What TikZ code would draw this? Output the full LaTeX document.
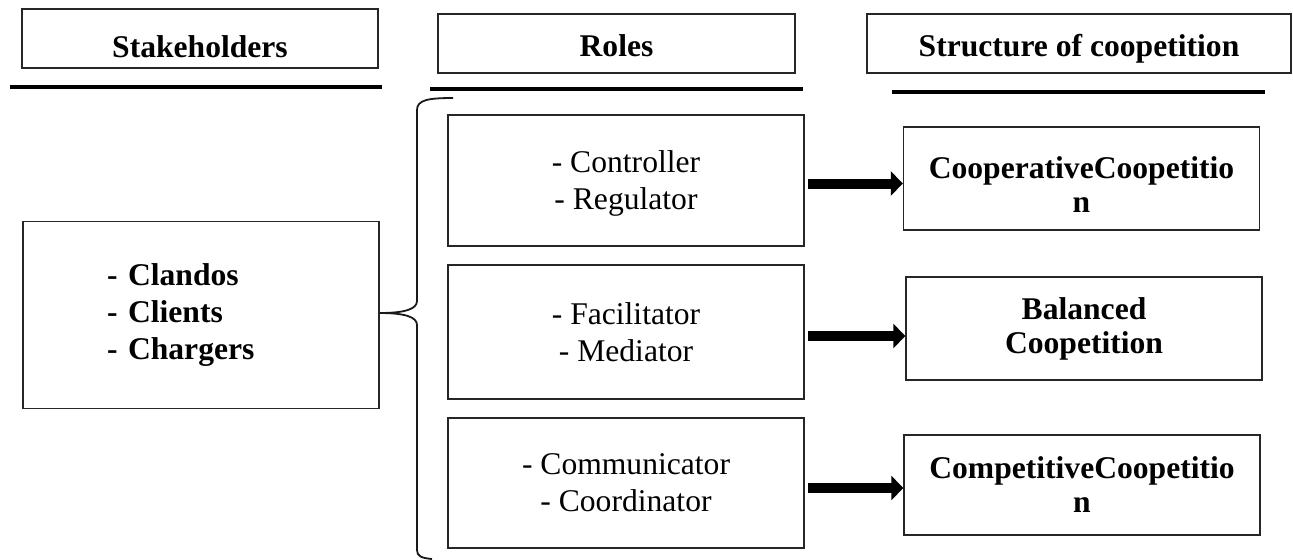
\documentclass[tikz,border=0pt]{standalone}
\usepackage{fontspec}
\setmainfont{Liberation Serif}
\usetikzlibrary{arrows.meta,calc}
\begin{document}
\begin{tikzpicture}[x=0.5pt,y=-0.5pt,
  box/.style={draw=black!85, line width=0.7pt, inner sep=0pt, align=center,
    font=\fontsize{15.8}{18.5}\selectfont},
  hdr/.style={box, minimum height=29.5pt, font=\fontsize{15.8}{18.5}\selectfont\bfseries},
  rolebox/.style={box, minimum width=178pt},
  structbox/.style={box, minimum width=178pt, font=\fontsize{15.8}{17}\selectfont\bfseries},
  bar/.style={line width=2pt, line cap=butt},
  bigarrow/.style={line width=5pt, -{Triangle[length=6pt, width=12pt]}},
  brace/.style={line width=0.9pt, black!90}]
\useasboundingbox (0,0) rectangle (1293,559);

% headers
\node[hdr, minimum width=178pt, text height=18.6pt, text depth=0pt] (h1) at (200,38.5) {Stakeholders};
\node[hdr, minimum width=178.5pt, text height=16pt, text depth=3.5pt] (h2) at (616.5,43.5) {Roles};
\node[hdr, minimum width=212pt, text height=16pt, text depth=3.5pt] (h3) at (1079,43.5) {Structure of coopetition};

% thick rules under headers
\draw[bar] (10,87) -- (382,87);
\draw[bar] (430,89) -- (803,89);
\draw[bar] (892,92) -- (1265,92);

% stakeholders
\node[box, minimum width=178pt, minimum height=93.5pt, text width=94pt, align=left,
      font=\fontsize{15.8}{18.5}\selectfont\bfseries] (sh) at (201,315)
  {- Clandos\\- Clients\\- Chargers};

% roles
\node[rolebox, minimum height=65.5pt] (r1) at (626,180.5) {\rule{0pt}{14pt}- Controller\\- Regulator};
\node[rolebox, minimum height=67pt] (r2) at (626,332) {- Facilitator\\- Mediator};
\node[rolebox, minimum height=65pt] (r3) at (626,483) {- Communicator\\- Coordinator};

% structures
\node[structbox, minimum height=51.5pt] (s1) at (1081.5,178.5) {\rule{0pt}{17pt}CooperativeCoopetitio\\n};
\node[structbox, minimum height=51.5pt] (s2) at (1084,328.5) {Balanced\\Coopetition};
\node[structbox, minimum height=50pt] (s3) at (1082,485) {CompetitiveCoopetitio\\n};

% arrows
\draw[bigarrow] ([xshift=1.5pt,yshift=-1.5pt]r1.east) -- ([yshift=-1.5pt]r1.east -| s1.west);
\draw[bigarrow] ([xshift=1.5pt,yshift=-2pt]r2.east) -- ([yshift=-2pt]r2.east -| s2.west);
\draw[bigarrow] ([xshift=1.5pt,yshift=-2.5pt]r3.east) -- ([yshift=-2.5pt]r3.east -| s3.west);

% brace
\draw[brace] (453,98) .. controls (428,98) and (417,100) .. (417,110)
  -- (417,301) .. controls (417,309) and (405,313) .. (sh.east |- 0,313)
  .. controls (405,313) and (417,317) .. (417,325)
  -- (417,550) .. controls (417,556) and (421,558) .. (432,559);
\end{tikzpicture}
\end{document}
